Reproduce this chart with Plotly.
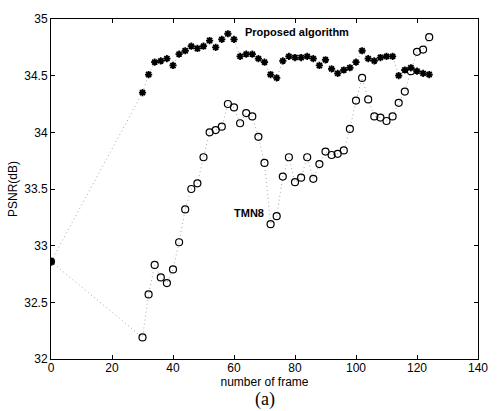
import plotly.graph_objects as go

# Frame indices shared by both curves (frame 0, then every second frame 30..124)
frames = [0] + list(range(30, 126, 2))

# PSNR (dB) of the proposed rate-control algorithm
psnr_proposed = [32.86,
    34.35, 34.51, 34.62, 34.63, 34.65, 34.59, 34.69, 34.72, 34.76, 34.74,
    34.76, 34.81, 34.75, 34.82, 34.87, 34.82, 34.67, 34.69, 34.69, 34.65,
    34.62, 34.51, 34.48, 34.63, 34.67, 34.66, 34.66, 34.67, 34.65, 34.59,
    34.64, 34.56, 34.52, 34.55, 34.57, 34.62, 34.72, 34.65, 34.63, 34.66,
    34.67, 34.67, 34.50, 34.55, 34.57, 34.54, 34.52, 34.51]

# PSNR (dB) of TMN8
psnr_tmn8 = [32.86,
    32.19, 32.57, 32.83, 32.72, 32.67, 32.79, 33.03, 33.32, 33.50, 33.55,
    33.78, 34.00, 34.02, 34.05, 34.25, 34.22, 34.08, 34.17, 34.14, 33.96,
    33.73, 33.19, 33.26, 33.61, 33.78, 33.56, 33.60, 33.78, 33.59, 33.72,
    33.83, 33.80, 33.81, 33.84, 34.03, 34.28, 34.48, 34.29, 34.14, 34.13,
    34.10, 34.14, 34.26, 34.36, 34.54, 34.71, 34.73, 34.84]

x_ticks = [0, 20, 40, 60, 80, 100, 120, 140]
y_ticks = [32, 32.5, 33, 33.5, 34, 34.5, 35]
y_tick_labels = ["32", "32.5", "33", "33.5", "34", "34.5", "35"]

FONT = "Liberation Sans, Arial, sans-serif"
DOTTED = dict(color="#a8a8a8", width=1, dash="1px,3px")

fig = go.Figure()

fig.add_trace(go.Scatter(
    x=frames, y=psnr_tmn8, mode="lines+markers", name="TMN8",
    line=DOTTED,
    marker=dict(symbol="circle-open", size=7, color="black",
                line=dict(color="black", width=1.2)),
))

fig.add_trace(go.Scatter(
    x=frames, y=psnr_proposed, mode="lines+markers", name="Proposed algorithm",
    line=DOTTED,
    marker=dict(symbol="asterisk-open", size=6, color="black",
                line=dict(color="black", width=1.8)),
))

# Solid dot where both curves start
fig.add_trace(go.Scatter(
    x=frames[:1], y=psnr_tmn8[:1], mode="markers",
    marker=dict(symbol="circle", size=6, color="black"),
))

fig.add_annotation(x=63, y=34.885, text="<b>Proposed algorithm</b>",
                   showarrow=False, xanchor="left", yanchor="middle",
                   font=dict(family=FONT, size=11, color="black"))
fig.add_annotation(x=59.5, y=33.285, text="<b>TMN8</b>",
                   showarrow=False, xanchor="left", yanchor="middle",
                   font=dict(family=FONT, size=11, color="black"))
fig.add_annotation(x=0.5, y=-0.12, xref="paper", yref="paper",
                   text="(a)", showarrow=False, xanchor="center", yanchor="middle",
                   font=dict(family="Liberation Serif, Times New Roman, serif",
                             size=18, color="black"))

axis_common = dict(
    showgrid=False, zeroline=False, showline=True, linecolor="black",
    linewidth=1, mirror="ticks", ticks="inside", ticklen=4,
    tickcolor="black", tickfont=dict(family=FONT, size=12, color="black"),
)

fig.update_xaxes(range=[0, 140], tickvals=x_ticks, ticklabelstandoff=-2,
                 title=dict(text="number of frame", standoff=0,
                            font=dict(family=FONT, size=12, color="black")),
                 **axis_common)
fig.update_yaxes(range=[32, 35], tickvals=y_ticks, ticktext=y_tick_labels,
                 ticklabelstandoff=0,
                 title=dict(text="PSNR(dB)", standoff=4,
                            font=dict(family=FONT, size=12, color="black")),
                 **axis_common)

fig.update_layout(
    width=500, height=411,
    margin=dict(l=43, r=12, t=13, b=52),
    paper_bgcolor="white", plot_bgcolor="white",
    showlegend=False,
)

fig.write_html("out.html")
